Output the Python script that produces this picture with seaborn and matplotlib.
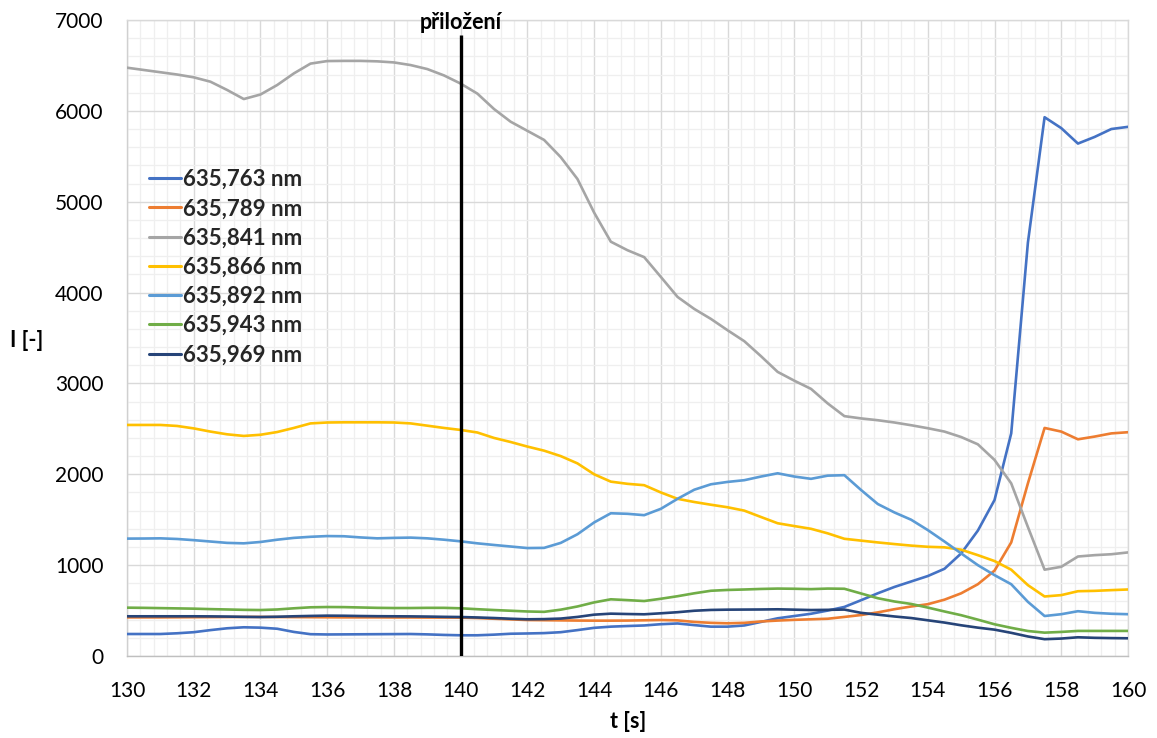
import numpy as np
import pandas as pd
import matplotlib
matplotlib.use("Agg")
import matplotlib.pyplot as plt
from matplotlib.ticker import MultipleLocator
import seaborn as sns

# ---------------- data ----------------
t = [130 + 0.5 * i for i in range(61)]

s763 = [242, 242, 242, 250, 262, 285, 305, 316, 312, 300,
        265, 240, 237, 238, 239, 240, 241, 242, 238, 232,
        228, 228, 235, 245, 248, 252, 262, 285, 310, 323,
        330, 336, 350, 358, 340, 323, 323, 336, 375, 415,
        440, 465, 500, 540, 614, 690, 760, 820, 880, 960,
        1129, 1380, 1717, 2450, 4550, 5930, 5810, 5640, 5713, 5800,
        5824]
s789 = [425, 425, 425, 426, 427, 428, 429, 430, 430, 429,
        428, 427, 426, 425, 425, 425, 424, 424, 423, 423,
        422, 418, 410, 403, 396, 394, 392, 390, 389, 389,
        390, 393, 396, 392, 375, 365, 360, 365, 380, 390,
        398, 404, 410, 430, 451, 480, 515, 545, 570, 620,
        690, 790, 940, 1250, 1900, 2510, 2470, 2385, 2415, 2450,
        2463]
s841 = [6475, 6450, 6425, 6400, 6369, 6321, 6230, 6130, 6180, 6284,
        6412, 6520, 6548, 6550, 6550, 6545, 6533, 6504, 6460, 6390,
        6300, 6190, 6020, 5880, 5780, 5680, 5490, 5250, 4880, 4560,
        4466, 4390, 4172, 3952, 3820, 3710, 3585, 3465, 3300, 3127,
        3030, 2940, 2780, 2640, 2615, 2595, 2570, 2540, 2507, 2470,
        2410, 2330, 2158, 1900, 1420, 950, 982, 1095, 1110, 1120,
        1140]
s866 = [2543, 2543, 2543, 2532, 2505, 2470, 2440, 2422, 2435, 2465,
        2510, 2560, 2570, 2572, 2572, 2572, 2570, 2560, 2535, 2510,
        2488, 2460, 2400, 2355, 2305, 2260, 2200, 2120, 2000, 1919,
        1895, 1880, 1800, 1730, 1695, 1665, 1637, 1600, 1530, 1461,
        1430, 1400, 1350, 1290, 1270, 1250, 1232, 1215, 1202, 1196,
        1170, 1110, 1045, 950, 780, 655, 670, 713, 717, 725,
        732]
s892 = [1292, 1293, 1295, 1288, 1275, 1260, 1245, 1240, 1255, 1280,
        1300, 1312, 1320, 1318, 1305, 1295, 1300, 1303, 1295, 1280,
        1262, 1240, 1222, 1205, 1188, 1190, 1245, 1340, 1470, 1571,
        1565, 1550, 1620, 1730, 1830, 1890, 1916, 1935, 1975, 2011,
        1975, 1950, 1985, 1990, 1827, 1673, 1580, 1500, 1386, 1260,
        1129, 1000, 890, 790, 596, 440, 460, 493, 475, 465,
        460]
s943 = [532, 530, 527, 524, 521, 516, 512, 508, 506, 512,
        525, 536, 539, 538, 534, 530, 528, 528, 530, 530,
        525, 515, 506, 498, 490, 486, 510, 545, 590, 624,
        615, 605, 630, 658, 690, 718, 727, 732, 738, 742,
        740, 736, 742, 740, 688, 636, 600, 573, 533, 490,
        449, 400, 349, 310, 275, 257, 265, 276, 276, 276,
        276]
s969 = [437, 437, 437, 437, 437, 436, 434, 431, 429, 432,
        437, 441, 444, 443, 440, 438, 437, 436, 434, 431,
        429, 424, 418, 410, 404, 406, 412, 430, 455, 466,
        462, 459, 470, 482, 498, 507, 510, 511, 512, 514,
        510, 506, 508, 511, 475, 455, 435, 418, 393, 368,
        338, 312, 290, 255, 215, 185, 192, 206, 200, 197,
        195]

series_names = ["635,763 nm", "635,789 nm", "635,841 nm", "635,866 nm",
                "635,892 nm", "635,943 nm", "635,969 nm"]
series_values = [s763, s789, s841, s866, s892, s943, s969]
colors = ["#4472C4", "#ED7D31", "#A5A5A5", "#FFC000", "#5B9BD5", "#70AD47", "#264478"]

event_t = 140
event_top = 6830
event_label = "přiložení"
event_label_y = 6975

x_label = "t [s]"
y_label = "I [-]"

# ---------------- plotting ----------------
df = pd.concat(
    [pd.DataFrame({"t": t, "I": v, "serie": n}) for n, v in zip(series_names, series_values)],
    ignore_index=True,
)

sns.set_theme(style="white")
plt.rcParams["font.family"] = ["Lato", "DejaVu Sans"]

W, H = 1157, 738
fig = plt.figure(figsize=(W / 100, H / 100), dpi=100)
ax = fig.add_axes([127 / W, 1 - 656 / H, (1128 - 127) / W, (656 - 20) / H])

sns.lineplot(data=df, x="t", y="I", hue="serie", hue_order=series_names,
             palette=dict(zip(series_names, colors)), linewidth=1.9, ax=ax,
             legend=True, zorder=3)
for ln in ax.get_lines():
    ln.set_solid_joinstyle("round")

ax.plot([event_t, event_t], [0, event_top], color="black", linewidth=2.4, zorder=4,
        solid_capstyle="butt")
ax.text(event_t, event_label_y, event_label, ha="center", va="center",
        fontsize=15.5, fontweight="bold", color="black", clip_on=False)

ax.set_xlim(130, 160)
ax.set_ylim(0, 7000)
ax.xaxis.set_major_locator(MultipleLocator(2))
ax.xaxis.set_minor_locator(MultipleLocator(0.4))
ax.yaxis.set_major_locator(MultipleLocator(1000))
ax.yaxis.set_minor_locator(MultipleLocator(200))
ax.grid(which="major", color="#d9d9d9", linewidth=1.0, zorder=0)
ax.grid(which="minor", color="#efefef", linewidth=0.9, zorder=0)
ax.set_axisbelow(True)
for sp in ax.spines.values():
    sp.set_color("#d9d9d9")
    sp.set_linewidth(1.0)
ax.spines["bottom"].set_color("#bfbfbf")
ax.spines["left"].set_color("#d0d0d0")

ax.tick_params(which="both", length=0, labelsize=15, colors="black")
ax.tick_params(axis="x", pad=18)
ax.tick_params(axis="y", pad=17)

ax.set_xlabel("")
ax.set_ylabel("")
fig.text(628 / W, 1 - 722 / H, x_label, ha="center", va="center",
         fontsize=15.5, fontweight="bold", color="black")
fig.text(27 / W, 1 - 340 / H, y_label, ha="center", va="center",
         fontsize=15.5, fontweight="bold", color="black")

handles, labels = ax.get_legend_handles_labels()
leg = ax.legend(handles, labels, loc="upper left",
                bbox_to_anchor=(149 / W, 1 - 169 / H), bbox_transform=fig.transFigure,
                frameon=False, prop={"weight": "bold", "size": 16},
                handlelength=1.45, handletextpad=0.1, labelspacing=0.37,
                borderaxespad=0, borderpad=0)
for line in leg.get_lines():
    line.set_linewidth(2.2)

fig.savefig("out.png", dpi=100, facecolor="white")
